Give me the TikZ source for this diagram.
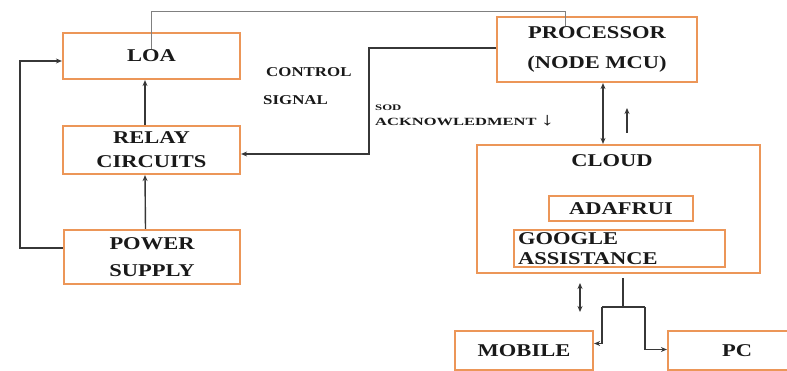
\documentclass[tikz,border=0pt]{standalone}
\usepackage{fontspec}
\setmainfont{Liberation Serif}[FakeStretch=1.25]
\newfontfamily\ackfont{Liberation Serif}[FakeStretch=1.5]
\usetikzlibrary{arrows.meta}
\definecolor{boxorange}{RGB}{236,150,88}
\definecolor{wiregray}{RGB}{55,55,55}
\definecolor{textgray}{RGB}{25,25,25}

\begin{document}
\begin{tikzpicture}[x=1pt, y=-1pt,
        block/.style={draw=boxorange, line width=2.2pt, align=center, inner sep=0pt, text=textgray, font=\fontsize{18}{24}\selectfont\bfseries},
        tag/.style={anchor=west, inner sep=0pt, text=textgray, font=\fontsize{13.5}{16}\selectfont\bfseries},
        wire/.style={draw=wiregray, line width=1.4pt},
        >={Stealth[length=6pt, width=5pt]}]
        \useasboundingbox (0,0) rectangle (787,371);
        % left column
        \node[block, minimum width=177, minimum height=46] (loa) at (151.5, 56) {LOA};
        \node[block, minimum width=177, minimum height=48] (relay) at (151.5, 150) {RELAY\\CIRCUITS};
        \node[block, minimum width=176, minimum height=54] (power) at (152, 257) {POWER\\[3pt]SUPPLY};
        % right column
        \node[block, minimum width=200, minimum height=65] (proc) at (597, 49.5) {PROCESSOR\\[6pt](NODE MCU)};
        \node[block, minimum width=283, minimum height=128] (cloud) at (618.5, 209) {};
        \node[block, draw=none] (cloudname) at (612, 161) {CLOUD};
        \node[block, line width=1.2pt, minimum width=144, minimum height=25] (adafrui) at (621, 208.5) {ADAFRUI};
        \node[block, line width=1.2pt, minimum width=211, minimum height=37, text width=203, align=left, font=\fontsize{18}{20}\selectfont\bfseries] (google) at (619.5, 248.5) {GOOGLE\\ASSISTANCE};
        \node[block, minimum width=138, minimum height=39] (mobile) at (524, 350.5) {MOBILE};
        \node[block, minimum width=138, minimum height=39] (pc) at (737, 350.5) {PC};
        % texts
        \node[tag] (control) at (266, 72) {CONTROL};
        \node[tag] (signal) at (263, 100) {SIGNAL};
        \node[tag, font=\fontsize{8.5}{10}\ackfont\bfseries] (sod) at (375, 108) {SOD};
        \node[tag, font=\fontsize{11}{13}\ackfont\bfseries] (ack) at (375, 121) {ACKNOWLEDMENT {\fontsize{18}{18}\selectfont ↓}};
        % free ends
        \coordinate (upfrom) at (627, 133);
        \coordinate (upto) at (627, 108);
        \coordinate (cloudlow) at (580, 283);
        \coordinate (cloudhigh) at (580, 312);
        \coordinate (fork) at (623, 307);
        \coordinate (forkl) at (602, 307);
        \coordinate (forkr) at (645, 307);
        \coordinate (pcdown) at ([xshift=6pt]proc.south);
        % connectors
        \draw[wire, line width=0.9pt, draw=gray] ([yshift=-17pt]loa.north) -- ++(0, -37) -| ([xshift=-32pt, yshift=-10pt]proc.north);
        \draw[wire, ->] ([yshift=1.5pt]proc.west) -- ++(-127, 0) |- ([yshift=-4pt]relay.east);
        \draw[wire, ->] ([yshift=9pt]power.west) -- ++(-43, 0) |- ([yshift=-5pt]loa.west);
        \draw[wire, ->] ([xshift=-6.5pt]relay.north) -- ([xshift=-6.5pt]loa.south);
        \draw[wire, ->] ([xshift=-6.5pt]power.north) -- ([xshift=-6.5pt]relay.south);
        \draw[wire, <->] (pcdown) -- (pcdown |- cloud.north);
        \draw[wire, ->] (upfrom) -- (upto);
        \draw[wire, <->] (cloudlow) -- (cloudhigh);
        \draw[wire] ([yshift=-4pt]cloud.south -| fork) -- (fork);
        \draw[wire] (forkl) -- (forkr);
        \draw[wire, ->] (forkl) |- ([yshift=7pt]mobile.east);
        \draw[wire, ->] (forkr) |- ([yshift=1pt]pc.west);
    \end{tikzpicture}
\end{document}
